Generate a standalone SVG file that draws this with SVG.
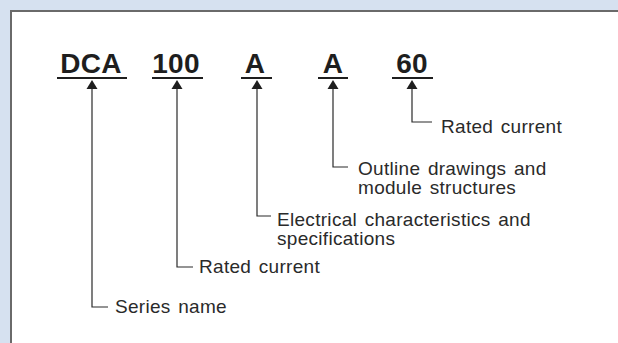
<svg xmlns="http://www.w3.org/2000/svg" width="618" height="343" viewBox="0 0 618 343">
<defs>
<style>
.code{font-family:"Liberation Sans",Arial,sans-serif;font-weight:bold;font-size:28px;fill:#1e1e1e;text-anchor:middle;letter-spacing:0.3px}
.lbl{font-family:"Liberation Sans",Arial,sans-serif;font-size:19px;fill:#2a2a2a;letter-spacing:0.3px;word-spacing:2px}
.ul{stroke:#1e1e1e;stroke-width:2}
.conn{fill:none;stroke:#2a2a2a;stroke-width:1.2}
.ah{fill:#1e1e1e}
</style>
</defs>
<rect x="0" y="0" width="618" height="343" fill="#d6e1f0"/>
<rect x="11" y="11" width="620" height="340" fill="#ffffff" stroke="#6a6a6a" stroke-width="2"/>
<g id="node-dca">
<text class="code" x="91" y="73">DCA</text>
<line class="ul" x1="57" y1="78" x2="127" y2="78"/>
</g>
<g id="node-100">
<text class="code" x="176" y="73">100</text>
<line class="ul" x1="152" y1="78" x2="203" y2="78"/>
</g>
<g id="node-a1">
<text class="code" x="255" y="73">A</text>
<line class="ul" x1="241" y1="78" x2="272" y2="78"/>
</g>
<g id="node-a2">
<text class="code" x="333" y="73">A</text>
<line class="ul" x1="318" y1="78" x2="348" y2="78"/>
</g>
<g id="node-60">
<text class="code" x="412" y="73">60</text>
<line class="ul" x1="392" y1="78" x2="433" y2="78"/>
</g>
<g id="label-series">
<text class="lbl" x="115" y="313">Series name</text>
</g>
<g id="label-rated1">
<text class="lbl" x="199" y="273">Rated current</text>
</g>
<g id="label-elec">
<text class="lbl" x="277" y="226">Electrical characteristics and</text>
<text class="lbl" x="277" y="245">specifications</text>
</g>
<g id="label-outline">
<text class="lbl" x="358" y="175">Outline drawings and</text>
<text class="lbl" x="358" y="194">module structures</text>
</g>
<g id="label-rated2">
<text class="lbl" x="441" y="133">Rated current</text>
</g>
<g id="connectors">
<path class="conn" d="M92 88 V307 H108"/>
<path class="ah" d="M92 80 L97.5 89 L86.5 89 Z"/>
<path class="conn" d="M177 88 V267 H193"/>
<path class="ah" d="M177 80 L182.5 89 L171.5 89 Z"/>
<path class="conn" d="M257 88 V216 H271"/>
<path class="ah" d="M257 80 L262.5 89 L251.5 89 Z"/>
<path class="conn" d="M333 88 V167 H348"/>
<path class="ah" d="M333 80 L338.5 89 L327.5 89 Z"/>
<path class="conn" d="M412 88 V122 H432"/>
<path class="ah" d="M412 80 L417.5 89 L406.5 89 Z"/>
</g>
</svg>
